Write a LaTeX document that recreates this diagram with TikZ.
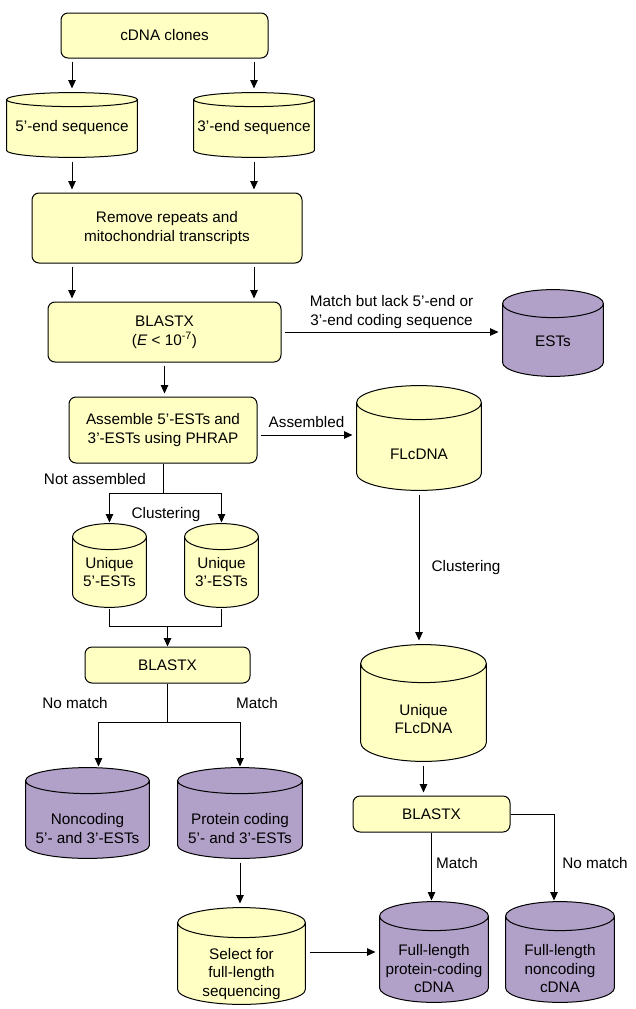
\documentclass[tikz,border=0pt]{standalone}
\usepackage{fontspec}
\setmainfont{Liberation Sans}
\usetikzlibrary{arrows.meta,calc}
\definecolor{boxyellow}{RGB}{255,255,196}
\definecolor{dbpurple}{RGB}{177,160,200}
% cylinder body drawn inside the node box: #1 fill, #2 half height of the end ellipse (pt)
\newcommand\cylbody[2]{%
  \draw[line width=1pt, fill=#1]
    let \p1=(path picture bounding box.south west),
        \p2=(path picture bounding box.north east),
        \n1={(\x2-\x1)/2-0.6pt}
    in (\x1+0.6pt,\y2-0.6pt-#2pt) -- (\x1+0.6pt,\y1+0.6pt+#2pt)
       arc[start angle=180, end angle=360, x radius=\n1, y radius=#2pt]
       -- (\x2-0.6pt,\y2-0.6pt-#2pt)
       arc[start angle=0, end angle=180, x radius=\n1, y radius=#2pt]
       -- cycle
       (\x1+0.6pt,\y2-0.6pt-#2pt)
       arc[start angle=180, end angle=360, x radius=\n1, y radius=#2pt];}
\begin{document}
\begin{tikzpicture}[x=1pt, y=-1pt, line width=1pt,
    font=\fontsize{15.3}{18.5}\selectfont,
    proc/.style={draw, fill=boxyellow, rounded corners=7pt, align=center, inner sep=0pt},
    cyl/.style 2 args={rectangle, inner sep=0pt, path picture={\cylbody{#1}{#2}}},
    ctext/.style={align=center, inner sep=0pt},
    lbl/.style={align=center, inner sep=0pt},
    arr/.style={-{Triangle[length=8.5pt,width=7.5pt]}, shorten <=3pt, shorten >=3pt},
    elb/.style={-{Triangle[length=8.5pt,width=7.5pt]}}]
  \useasboundingbox (0,0) rectangle (635,1009);

  % left column
  \node[proc, minimum width=207pt, minimum height=45pt] (clones) at (164.5,35.5) {cDNA clones};
  \node[cyl={boxyellow}{7}, minimum width=132pt, minimum height=66pt,
    label={[ctext, yshift=-3pt]center:{5’-end sequence}}] (end5) at (72,125) {};
  \node[cyl={boxyellow}{7}, minimum width=122pt, minimum height=66pt,
    label={[ctext, yshift=-3pt]center:{3’-end sequence}}] (end3) at (254,125) {};
  \node[proc, minimum width=270pt, minimum height=70pt] (remove) at (167,228)
    {Remove repeats and\\mitochondrial transcripts};
  \node[proc, minimum width=233pt, minimum height=60pt] (blastxa) at (164.5,332)
    {BLASTX\\(\textit{E} < 10\textsuperscript{-7})};
  \node[proc, minimum width=188pt, minimum height=66pt] (assemble) at (163,430)
    {Assemble 5’-ESTs and\\3’-ESTs using PHRAP};
  \node[cyl={boxyellow}{13}, minimum width=75pt, minimum height=85pt,
    label={[ctext, yshift=-6.5pt]center:{Unique\\5’-ESTs}}] (uest5) at (109.5,565.5) {};
  \node[cyl={boxyellow}{13}, minimum width=75pt, minimum height=85pt,
    label={[ctext, yshift=-6.5pt]center:{Unique\\3’-ESTs}}] (uest3) at (221.5,565.5) {};
  \node[proc, minimum width=165pt, minimum height=36pt] (blastxb) at (167.5,665) {BLASTX};
  \node[cyl={dbpurple}{13}, minimum width=125pt, minimum height=92pt,
    label={[ctext, yshift=-15.5pt]center:{Noncoding\\5’- and 3’-ESTs}}] (noncod) at (87.5,813) {};
  \node[cyl={dbpurple}{13}, minimum width=126pt, minimum height=92pt,
    label={[ctext, yshift=-15.5pt]center:{Protein coding\\5’- and 3’-ESTs}}] (protcod) at (240,813) {};
  \node[cyl={boxyellow}{15}, minimum width=129pt, minimum height=98pt,
    label={[ctext, yshift=-18pt]center:{Select for\\full-length\\sequencing}}] (selfl) at (241.5,956) {};

  % right column
  \node[cyl={dbpurple}{14}, minimum width=102pt, minimum height=88pt,
    label={[ctext, yshift=-8pt]center:{ESTs}}] (ests) at (553,333) {};
  \node[cyl={boxyellow}{17}, minimum width=126pt, minimum height=106pt,
    label={[ctext, yshift=-16pt]center:{FLcDNA}}] (flcdna) at (419,438) {};
  \node[cyl={boxyellow}{19}, minimum width=127pt, minimum height=118pt,
    label={[ctext, yshift=-16pt]center:{Unique\\FLcDNA}}] (uflc) at (423.5,703) {};
  \node[proc, minimum width=157pt, minimum height=36pt] (blastxc) at (431.5,814) {BLASTX};
  \node[cyl={dbpurple}{14.5}, minimum width=110pt, minimum height=102pt,
    label={[ctext, yshift=-17pt]center:{Full-length\\protein-coding\\cDNA}}] (flprot) at (434,952) {};
  \node[cyl={dbpurple}{14.5}, minimum width=110pt, minimum height=102pt,
    label={[ctext, yshift=-17pt]center:{Full-length\\noncoding\\cDNA}}] (flnon) at (560,952) {};

  % branch labels
  \node[lbl] (tnass) at (95,479) {Not assembled};
  \node[lbl] (tclus) at (166,515) {Clustering};
  \node[lbl] (tclusb) at (466,568) {Clustering};
  \node[lbl] (tnom) at (75,703) {No match};
  \node[lbl] (tmat) at (257,703) {Match};
  \node[lbl] (tmatb) at (457,863) {Match};
  \node[lbl] (tnomb) at (595,863) {No match};

  % connectors
  \draw[arr] (clones.south -| end5.north) -- (end5.north);
  \draw[arr] (clones.south -| end3.north) -- (end3.north);
  \draw[arr] (end5.south) -- (end5.south |- remove.north);
  \draw[arr] (end3.south) -- (end3.south |- remove.north);
  \draw[arr] (remove.south -| end5.south) -- (blastxa.north -| end5.south);
  \draw[arr] (remove.south -| end3.south) -- (blastxa.north -| end3.south);
  \draw[arr] (blastxa.east) -- node[lbl, above=3pt] (tlack)
    {Match but lack 5’-end or\\3’-end coding sequence} (blastxa.east -| ests.west);
  \draw[arr] (blastxa.south) -- (blastxa.south |- assemble.north);
  \draw[arr] ([yshift=-5pt]assemble.east) -- node[lbl, above=7pt] (tasm) {Assembled}
    ([yshift=-5pt]assemble.east -| flcdna.west);
  \draw (assemble.south) -- ++(0,30) coordinate (nass);
  \draw[elb] (nass) -| (uest5.north);
  \draw[elb] (nass) -| (uest3.north);
  \coordinate (merge) at ([yshift=20pt]blastxb.north);
  \draw (uest5.south) |- (merge) -| (uest3.south);
  \draw[elb] (merge) -- (blastxb.north);
  \draw (blastxb.south) -- ++(0,39) coordinate (bsplit);
  \draw[elb] (bsplit) -| ([xshift=11pt]noncod.north);
  \draw[elb] (bsplit) -| (protcod.north);
  \draw[arr] (protcod.south) -- (protcod.south |- selfl.north);
  \draw[arr] (flprot.west -| selfl.east) -- (flprot.west);
  \draw[arr] (flcdna.south) -- (flcdna.south |- uflc.north);
  \draw[arr] (uflc.south) -- (uflc.south |- blastxc.north);
  \draw[elb] (blastxc.south) -- (blastxc.south |- flprot.north);
  \draw[elb] (blastxc.east) -| ([xshift=-6pt]flnon.north);
\end{tikzpicture}
\end{document}
